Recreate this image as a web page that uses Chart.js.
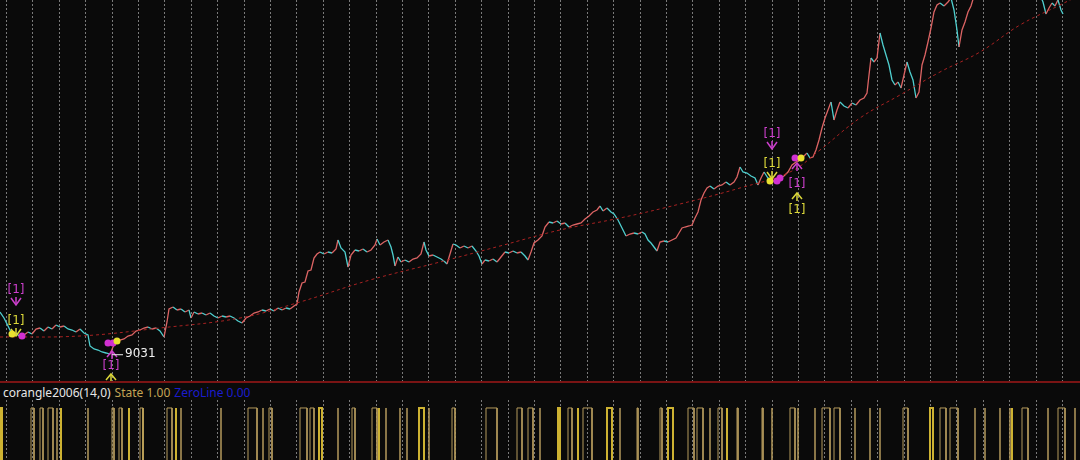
<!DOCTYPE html>
<html>
<head>
<meta charset="utf-8">
<script src="https://cdn.jsdelivr.net/npm/chart.js@4.4.1/dist/chart.umd.min.js"></script>
<style>
  html, body { margin: 0; padding: 0; background: #0a0a0a; }
  #wrap { position: relative; width: 1080px; height: 460px; overflow: hidden; background: #0a0a0a; }
  #top { position: absolute; left: 0; top: 0; width: 1080px; height: 381px; }
  #sep { position: absolute; left: 0; top: 381px; width: 1080px; height: 2px; background: #7a1414; }
  #label { position: absolute; left: 3px; top: 384px; font: 12px "Noto Sans", "DejaVu Sans", sans-serif; white-space: nowrap; color: #e6e6e6; }
  #label .st { color: #c4a555; margin-left: 4px; }
  #label .zl { color: #1c1ccc; margin-left: 4px; }
  #bottom { position: absolute; left: 0; top: 400px; width: 1080px; height: 60px; }
</style>
</head>
<body>
<div id="wrap">
  <div id="top"><canvas id="priceChart"></canvas></div>
  <div id="sep"></div>
  <div id="label">corangle2006(14,0)<span class="st">State 1.00</span><span class="zl">ZeroLine 0.00</span></div>
  <div id="bottom"><canvas id="stateChart"></canvas></div>
</div>
<script>
// barras (índice) e fechamentos
const bars = [0,4,8,12,16,20,24,28,32,36,40,44,48,52,56,60,64,68,72,76,80,84,88,90,94,98,102,106,110,113,116,120,124,128,132,136,140,144,148,152,156,160,164,167,169,173,177,181,185,189,191,194,198,202,206,210,214,218,222,226,230,234,238,242,246,250,254,258,262,266,270,274,278,282,286,290,294,297,299,302,305,308,311,314,317,320,324,328,332,336,338,341,345,348,351,355,359,363,367,371,375,377,380,384,388,391,393,395,398,401,405,409,413,417,421,424,426,429,433,437,441,445,447,450,453,456,460,464,468,472,476,479,482,485,489,493,497,501,505,509,513,517,521,525,528,531,534,538,542,545,549,553,557,561,565,569,573,577,581,585,589,593,597,600,603,607,611,614,618,622,626,630,634,638,642,645,648,651,654,657,660,664,668,672,676,679,682,685,689,692,695,698,701,704,707,710,714,718,722,726,730,734,737,740,743,747,751,755,758,761,764,768,772,776,780,784,788,792,796,800,804,807,810,813,816,819,822,825,828,831,834,837,840,844,848,852,856,860,864,867,869,871,874,877,880,883,886,889,892,895,898,901,904,907,910,913,916,919,922,925,928,931,934,937,940,944,948,951,954,957,959,962,965,968,971,974,980,990,1000,1010,1020,1030,1040,1043,1046,1049,1052,1055,1058,1061,1063];
const closes = [10720,10480,10160,9840,9880,9720,9800,9920,9840,10040,10080,9960,10120,10040,10200,10120,10160,10040,10000,9920,10040,9880,9800,9360,9240,9200,9120,9080,9031,9320,9520,9600,9640,9760,9800,9960,10000,10080,10120,10040,10080,9960,9720,10320,10840,10920,10800,10840,10720,10800,10480,10720,10640,10680,10600,10680,10560,10480,10560,10520,10560,10480,10360,10280,10480,10560,10680,10720,10800,10760,10840,10760,10880,10800,10880,10840,10960,11040,11520,11880,11920,12360,12400,12880,13040,13120,13040,13120,13080,13240,13600,13280,13120,12520,13000,13200,13160,13240,13120,13200,13400,13640,13400,13520,13600,13320,13000,12560,12920,12720,12800,12720,12840,12880,13040,13520,13200,12960,13000,12920,12840,12720,12640,13040,13440,13400,13280,13360,13280,13360,13160,12960,12640,12800,12760,12840,12720,12920,13120,13080,13160,13080,13120,12960,12800,13120,13480,13600,13760,14120,14320,14280,14360,14240,14280,14120,14200,14240,14280,14440,14560,14720,14800,14960,14760,14880,14720,14640,14400,14080,13760,13840,13880,13840,13920,13840,13600,13480,13320,13160,13520,13560,13520,13600,13680,13880,14080,14120,14160,14200,14480,14720,15200,15480,15680,15760,15640,15760,15800,15920,15800,15920,16120,16520,16320,16280,16160,16080,15800,16080,16320,16080,15960,15960,16080,16160,16320,16600,16720,16800,16960,17080,16880,16920,17200,17600,18080,18480,18800,19120,18400,18800,19120,18960,18880,19080,19000,19200,19280,19480,20200,20880,20720,20880,21880,21400,21000,20600,20000,19800,19920,19680,20200,20720,20320,20000,19280,19520,20600,21000,21520,22080,22720,23000,23080,22960,23120,23280,22800,22000,21320,22000,22320,22720,22960,23360,24000,24400,24800,25000,24600,24000,23400,23120,22640,22880,23080,22960,23200,22800,22640];

// linha de tendência pontilhada
const trendBars = [0,80,160,240,300,370,440,500,560,620,680,740,790,820,860,900,940,980,1020,1060,1080];
const trendVals = [9720,9760,10080,10480,11120,12000,12720,13360,14000,14480,15040,15680,16320,17200,18480,19400,20320,21120,22200,23000,23400];

// sinais [1]
const signalTexts = [
  { bar: 16, price: 11600, color: '#cc3fcc', arrow: 'down' },
  { bar: 16, price: 10360, color: '#dcd83a', arrow: 'down' },
  { bar: 111, price: 8560, color: '#cc3fcc', arrow: null },
  { bar: 772, price: 17840, color: '#cc3fcc', arrow: 'down' },
  { bar: 772, price: 16640, color: '#dcd83a', arrow: 'down' },
  { bar: 797, price: 15840, color: '#cc3fcc', arrow: null },
  { bar: 797, price: 14800, color: '#dcd83a', arrow: null }
];
const upArrows = [
  { bar: 111, price: 8240, color: '#dcd83a' },
  { bar: 112, price: 9160, color: '#cc3fcc' },
  { bar: 797, price: 15480, color: '#dcd83a' },
  { bar: 797, price: 16680, color: '#cc3fcc' }
];
const dots = [
  { bar: 12, price: 9840, color: '#e8e030' },
  { bar: 22, price: 9760, color: '#d030d0' },
  { bar: 108, price: 9480, color: '#d030d0' },
  { bar: 113, price: 9480, color: '#d030d0' },
  { bar: 117, price: 9560, color: '#e8e030' },
  { bar: 770, price: 15960, color: '#e8e030' },
  { bar: 777, price: 15960, color: '#d030d0' },
  { bar: 780, price: 16080, color: '#d030d0' },
  { bar: 795, price: 16880, color: '#d030d0' },
  { bar: 801, price: 16880, color: '#e8e030' }
];
const lowMark = { bar: 110, price: 9031, text: '9031' };

// pulsos do indicador State
const statePulses = [[31,34],[40,43],[48,53],[57,57],[88,88],[112,114],[119,122],[140,143],[167,172],[181,181],[221,221],[248,257],[263,263],[269,272],[300,307],[310,314],[338,338],[352,355],[372,377],[386,386],[400,400],[407,407],[429,429],[452,455],[486,497],[517,522],[528,533],[540,540],[568,572],[583,592],[620,620],[637,638],[660,662],[688,694],[697,703],[710,710],[718,722],[737,738],[762,763],[772,772],[790,795],[798,798],[815,815],[822,830],[834,840],[855,855],[870,870],[880,880],[903,908],[940,946],[950,958],[975,975],[985,985],[1000,1000],[1010,1010],[1022,1028],[1048,1048],[1058,1065],[1075,1075]];
const brightPulses = [[0,2],[61,61],[129,129],[143,143],[176,176],[319,322],[379,379],[419,424],[558,560],[578,578],[607,612],[668,673],[727,727],[930,933],[1012,1012]];

const gridBars = [];
for (let b = 6.5; b < 1080; b += 26.4) gridBars.push(b);

const UP = '#dc6464';
const DOWN = '#4fcfcf';

function pulsesToData(pulses) {
    const pts = [];
    pulses.forEach(p => {
        pts.push({ x: p[0], y: 0 }, { x: p[0], y: 1 }, { x: p[1], y: 1 }, { x: p[1], y: 0 });
        pts.push({ x: p[1], y: NaN });
    });
    return pts;
}

function xAxis() {
    return {
        type: 'linear', min: 0, max: 1080,
        ticks: { display: false },
        grid: { color: '#7a7a7a', lineWidth: 1, drawTicks: false },
        border: { display: false, dash: [2, 2] },
        afterBuildTicks: axis => { axis.ticks = gridBars.map(v => ({ value: v })); }
    };
}

const markerPlugin = {
    id: 'markers',
    afterDatasetsDraw(chart) {
        const c = chart.ctx, xs = chart.scales.x, ys = chart.scales.y;
        c.save();
        c.font = '12px "DejaVu Sans", sans-serif';
        c.textAlign = 'center';
        c.textBaseline = 'middle';
        signalTexts.forEach(s => {
            const x = xs.getPixelForValue(s.bar), y = ys.getPixelForValue(s.price);
            c.fillStyle = s.color;
            c.fillText('[1]', x, y);
            if (s.arrow === 'down') {
                c.strokeStyle = s.color; c.lineWidth = 1.5;
                c.beginPath(); c.moveTo(x, y + 7); c.lineTo(x, y + 15); c.stroke();
                c.beginPath(); c.moveTo(x - 5, y + 8); c.lineTo(x, y + 15); c.lineTo(x + 5, y + 8); c.stroke();
            }
        });
        upArrows.forEach(a => {
            const x = xs.getPixelForValue(a.bar), y = ys.getPixelForValue(a.price);
            c.strokeStyle = a.color; c.lineWidth = 1.5;
            c.beginPath(); c.moveTo(x, y); c.lineTo(x, y + 8); c.stroke();
            c.beginPath(); c.moveTo(x - 5, y + 6); c.lineTo(x, y); c.lineTo(x + 5, y + 6); c.stroke();
        });
        dots.forEach(d => {
            c.fillStyle = d.color;
            c.beginPath();
            c.arc(xs.getPixelForValue(d.bar), ys.getPixelForValue(d.price), 3.5, 0, Math.PI * 2);
            c.fill();
        });
        const lx = xs.getPixelForValue(lowMark.bar), ly = ys.getPixelForValue(lowMark.price);
        c.strokeStyle = '#f0f0f0'; c.lineWidth = 1;
        c.beginPath(); c.moveTo(lx + 2, ly + 0.5); c.lineTo(lx + 13, ly + 0.5); c.stroke();
        c.fillStyle = '#f0f0f0';
        c.textAlign = 'left';
        c.fillText(lowMark.text, lx + 15, ly);
        c.restore();
    }
};

new Chart(document.getElementById('priceChart'), {
    type: 'line',
    data: {
        datasets: [{
            label: 'MA',
            data: trendBars.map((b, i) => ({ x: b, y: trendVals[i] })),
            borderColor: '#a82222',
            borderWidth: 1,
            borderDash: [3, 3],
            pointRadius: 0,
            tension: 0.4
        }, {
            label: 'Close',
            data: bars.map((b, i) => ({ x: b, y: closes[i] })),
            borderWidth: 1.3,
            pointRadius: 0,
            segment: {
                borderColor: ctx => ctx.p1.parsed.y >= ctx.p0.parsed.y ? UP : DOWN
            }
        }]
    },
    options: {
        animation: false,
        responsive: true,
        maintainAspectRatio: false,
        layout: { padding: 0 },
        plugins: { legend: { display: false }, tooltip: { enabled: false } },
        scales: {
            x: xAxis(),
            y: { display: false, min: 7960, max: 23200 }
        }
    },
    plugins: [markerPlugin]
});

new Chart(document.getElementById('stateChart'), {
    type: 'line',
    data: {
        datasets: [{
            label: 'State',
            data: pulsesToData(statePulses),
            borderColor: '#b49a5c',
            borderWidth: 1,
            pointRadius: 0,
            spanGaps: false
        }, {
            label: 'State2',
            data: pulsesToData(brightPulses),
            borderColor: '#cdb232',
            borderWidth: 2,
            pointRadius: 0,
            spanGaps: false
        }, {
            label: 'ZeroLine',
            data: [{ x: 0, y: 0 }, { x: 1080, y: 0 }],
            borderColor: '#1c1ccc',
            borderWidth: 1,
            pointRadius: 0
        }]
    },
    options: {
        animation: false,
        responsive: true,
        maintainAspectRatio: false,
        layout: { padding: 0 },
        plugins: { legend: { display: false }, tooltip: { enabled: false } },
        scales: {
            x: xAxis(),
            y: { display: false, min: 0.1, max: 1.138 }
        }
    }
});
</script>
</body>
</html>
